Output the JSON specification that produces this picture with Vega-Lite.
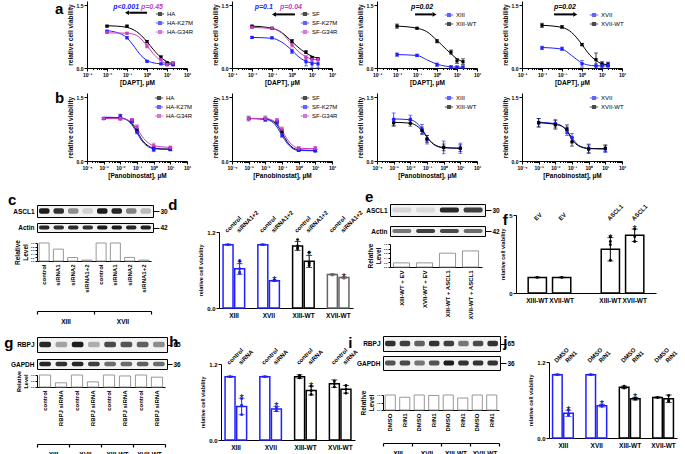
{
"$schema":"https://vega.github.io/schema/vega-lite/v6.json",
"background":"white",
"padding":{"left":3,"top":1,"right":0,"bottom":0},
"spacing":5,
"resolve":{"scale":{"color":"independent","stroke":"independent","opacity":"independent"},"legend":{"color":"independent"}},
"config":{
"font":"Liberation Sans",
"view":{"stroke":null},
"axis":{"grid":false,"minExtent":0,"domainColor":"#000","tickColor":"#000","labelColor":"#000","titleColor":"#000","labelFontWeight":"bold","titleFontWeight":"bold","labelFontSize":6,"titleFontSize":6.5,"tickSize":3,"labelPadding":1,"titlePadding":3,"domainWidth":1,"tickWidth":1},
"axisY":{"minExtent":0},
"axisX":{"minExtent":0},
"legend":{"labelColor":"#000","title":null,"labelFontSize":6,"symbolType":"M-1,0L1,0M-0.35,-0.35L0.35,-0.35L0.35,0.35L-0.35,0.35Z","symbolSize":70,"symbolStrokeWidth":1.2,"rowPadding":0,"labelOffset":2,"padding":0,"orient":"none"},
"point":{"shape":"square","filled":true,"size":10,"opacity":1},
"title":{"fontSize":15,"fontWeight":"bold","frame":"group","color":"#000","orient":"left","angle":0,"baseline":"top","anchor":"end","offset":4}
},
"datasets":{
"a1c":[{"c":0.01,"v":1.01,"s":"HA"},{"c":0.03,"v":1.0,"s":"HA"},{"c":0.1,"v":0.97,"s":"HA"},{"c":0.3,"v":0.87,"s":"HA"},{"c":1,"v":0.63,"s":"HA"},{"c":2,"v":0.45,"s":"HA"},{"c":5,"v":0.25,"s":"HA"},{"c":10,"v":0.15,"s":"HA"},{"c":20,"v":0.1,"s":"HA"},
{"c":0.01,"v":0.89,"s":"HA-K27M"},{"c":0.03,"v":0.85,"s":"HA-K27M"},{"c":0.1,"v":0.72,"s":"HA-K27M"},{"c":0.2,"v":0.55,"s":"HA-K27M"},{"c":0.5,"v":0.3,"s":"HA-K27M"},{"c":1,"v":0.18,"s":"HA-K27M"},{"c":3,"v":0.11,"s":"HA-K27M"},{"c":10,"v":0.09,"s":"HA-K27M"},{"c":20,"v":0.09,"s":"HA-K27M"},
{"c":0.01,"v":0.84,"s":"HA-G34R"},{"c":0.1,"v":0.83,"s":"HA-G34R"},{"c":0.3,"v":0.78,"s":"HA-G34R"},{"c":0.7,"v":0.62,"s":"HA-G34R"},{"c":1,"v":0.53,"s":"HA-G34R"},{"c":2,"v":0.35,"s":"HA-G34R"},{"c":5,"v":0.17,"s":"HA-G34R"},{"c":10,"v":0.11,"s":"HA-G34R"},{"c":20,"v":0.1,"s":"HA-G34R"}],
"a1p":[{"c":0.01,"v":1.0,"lo":0.98,"hi":1.02,"s":"HA"},{"c":0.1,"v":1.0,"lo":0.98,"hi":1.02,"s":"HA"},{"c":1,"v":0.63,"lo":0.6,"hi":0.66,"s":"HA"},{"c":5,"v":0.26,"lo":0.23,"hi":0.29,"s":"HA"},{"c":10,"v":0.12,"lo":0.09,"hi":0.15,"s":"HA"},{"c":20,"v":0.1,"lo":0.06,"hi":0.14,"s":"HA"},
{"c":0.01,"v":0.88,"lo":0.86,"hi":0.9,"s":"HA-K27M"},{"c":0.1,"v":0.72,"lo":0.7,"hi":0.75,"s":"HA-K27M"},{"c":1,"v":0.16,"lo":0.14,"hi":0.18,"s":"HA-K27M"},{"c":5,"v":0.1,"lo":0.08,"hi":0.12,"s":"HA-K27M"},{"c":10,"v":0.08,"lo":0.06,"hi":0.1,"s":"HA-K27M"},{"c":20,"v":0.08,"lo":0.05,"hi":0.11,"s":"HA-K27M"},
{"c":0.01,"v":0.85,"lo":0.83,"hi":0.87,"s":"HA-G34R"},{"c":0.1,"v":0.83,"lo":0.81,"hi":0.85,"s":"HA-G34R"},{"c":1,"v":0.52,"lo":0.48,"hi":0.56,"s":"HA-G34R"},{"c":5,"v":0.2,"lo":0.17,"hi":0.23,"s":"HA-G34R"},{"c":10,"v":0.08,"lo":0.06,"hi":0.1,"s":"HA-G34R"},{"c":20,"v":0.12,"lo":0.08,"hi":0.15,"s":"HA-G34R"}],
"a2c":[{"c":0.01,"v":1.0,"s":"SF"},{"c":0.1,"v":0.95,"s":"SF"},{"c":0.3,"v":0.85,"s":"SF"},{"c":1,"v":0.63,"s":"SF"},{"c":3,"v":0.43,"s":"SF"},{"c":5,"v":0.36,"s":"SF"},{"c":10,"v":0.28,"s":"SF"},{"c":20,"v":0.23,"s":"SF"},
{"c":0.01,"v":0.73,"s":"SF-K27M"},{"c":0.1,"v":0.71,"s":"SF-K27M"},{"c":0.3,"v":0.62,"s":"SF-K27M"},{"c":1,"v":0.42,"s":"SF-K27M"},{"c":2,"v":0.28,"s":"SF-K27M"},{"c":5,"v":0.16,"s":"SF-K27M"},{"c":10,"v":0.12,"s":"SF-K27M"},{"c":20,"v":0.11,"s":"SF-K27M"},
{"c":0.01,"v":0.97,"s":"SF-G34R"},{"c":0.1,"v":0.94,"s":"SF-G34R"},{"c":0.3,"v":0.84,"s":"SF-G34R"},{"c":1,"v":0.56,"s":"SF-G34R"},{"c":2,"v":0.4,"s":"SF-G34R"},{"c":5,"v":0.27,"s":"SF-G34R"},{"c":10,"v":0.21,"s":"SF-G34R"},{"c":20,"v":0.2,"s":"SF-G34R"}],
"a2p":[{"c":0.01,"v":1.0,"lo":0.98,"hi":1.02,"s":"SF"},{"c":0.1,"v":0.95,"lo":0.93,"hi":0.97,"s":"SF"},{"c":1,"v":0.64,"lo":0.6,"hi":0.68,"s":"SF"},{"c":5,"v":0.38,"lo":0.35,"hi":0.41,"s":"SF"},{"c":10,"v":0.25,"lo":0.22,"hi":0.28,"s":"SF"},{"c":20,"v":0.22,"lo":0.2,"hi":0.24,"s":"SF"},
{"c":0.01,"v":0.73,"lo":0.71,"hi":0.75,"s":"SF-K27M"},{"c":0.1,"v":0.72,"lo":0.7,"hi":0.74,"s":"SF-K27M"},{"c":1,"v":0.4,"lo":0.35,"hi":0.45,"s":"SF-K27M"},{"c":5,"v":0.15,"lo":0.05,"hi":0.25,"s":"SF-K27M"},{"c":10,"v":0.1,"lo":0.0,"hi":0.2,"s":"SF-K27M"},{"c":20,"v":0.1,"lo":0.0,"hi":0.2,"s":"SF-K27M"},
{"c":0.01,"v":0.97,"lo":0.95,"hi":0.99,"s":"SF-G34R"},{"c":0.1,"v":0.95,"lo":0.93,"hi":0.97,"s":"SF-G34R"},{"c":1,"v":0.55,"lo":0.5,"hi":0.6,"s":"SF-G34R"},{"c":5,"v":0.25,"lo":0.2,"hi":0.3,"s":"SF-G34R"},{"c":10,"v":0.2,"lo":0.16,"hi":0.24,"s":"SF-G34R"},{"c":20,"v":0.2,"lo":0.17,"hi":0.23,"s":"SF-G34R"}],
"a3c":[{"c":0.01,"v":1.0,"s":"XIII-WT"},{"c":0.1,"v":0.95,"s":"XIII-WT"},{"c":0.3,"v":0.87,"s":"XIII-WT"},{"c":1,"v":0.66,"s":"XIII-WT"},{"c":3,"v":0.44,"s":"XIII-WT"},{"c":5,"v":0.34,"s":"XIII-WT"},{"c":10,"v":0.22,"s":"XIII-WT"},{"c":20,"v":0.15,"s":"XIII-WT"},
{"c":0.01,"v":0.32,"s":"XIII"},{"c":0.1,"v":0.3,"s":"XIII"},{"c":0.3,"v":0.2,"s":"XIII"},{"c":1,"v":0.09,"s":"XIII"},{"c":3,"v":0.04,"s":"XIII"},{"c":10,"v":0.02,"s":"XIII"},{"c":20,"v":0.02,"s":"XIII"}],
"a3p":[{"c":0.01,"v":1.0,"lo":0.95,"hi":1.05,"s":"XIII-WT"},{"c":0.1,"v":0.95,"lo":0.93,"hi":0.97,"s":"XIII-WT"},{"c":1,"v":0.64,"lo":0.6,"hi":0.68,"s":"XIII-WT"},{"c":5,"v":0.38,"lo":0.33,"hi":0.43,"s":"XIII-WT"},{"c":10,"v":0.17,"lo":0.11,"hi":0.23,"s":"XIII-WT"},{"c":20,"v":0.15,"lo":0.08,"hi":0.22,"s":"XIII-WT"},
{"c":0.01,"v":0.32,"lo":0.28,"hi":0.36,"s":"XIII"},{"c":0.1,"v":0.3,"lo":0.27,"hi":0.33,"s":"XIII"},{"c":1,"v":0.08,"lo":0.04,"hi":0.12,"s":"XIII"},{"c":5,"v":0.02,"lo":0.0,"hi":0.06,"s":"XIII"},{"c":10,"v":0.02,"lo":0.0,"hi":0.05,"s":"XIII"},{"c":20,"v":0.02,"lo":0.0,"hi":0.05,"s":"XIII"}],
"a4c":[{"c":0.01,"v":1.02,"s":"XVII-WT"},{"c":0.1,"v":0.97,"s":"XVII-WT"},{"c":0.3,"v":0.85,"s":"XVII-WT"},{"c":1,"v":0.56,"s":"XVII-WT"},{"c":2,"v":0.36,"s":"XVII-WT"},{"c":5,"v":0.18,"s":"XVII-WT"},{"c":10,"v":0.1,"s":"XVII-WT"},{"c":20,"v":0.08,"s":"XVII-WT"},
{"c":0.01,"v":0.49,"s":"XVII"},{"c":0.1,"v":0.45,"s":"XVII"},{"c":0.3,"v":0.3,"s":"XVII"},{"c":1,"v":0.12,"s":"XVII"},{"c":3,"v":0.06,"s":"XVII"},{"c":10,"v":0.05,"s":"XVII"},{"c":20,"v":0.05,"s":"XVII"}],
"a4p":[{"c":0.01,"v":1.02,"lo":0.97,"hi":1.07,"s":"XVII-WT"},{"c":0.1,"v":0.98,"lo":0.95,"hi":1.01,"s":"XVII-WT"},{"c":1,"v":0.56,"lo":0.53,"hi":0.59,"s":"XVII-WT"},{"c":5,"v":0.2,"lo":0.05,"hi":0.36,"s":"XVII-WT"},{"c":10,"v":0.1,"lo":0.05,"hi":0.15,"s":"XVII-WT"},{"c":20,"v":0.08,"lo":0.03,"hi":0.13,"s":"XVII-WT"},
{"c":0.01,"v":0.48,"lo":0.44,"hi":0.52,"s":"XVII"},{"c":0.1,"v":0.46,"lo":0.42,"hi":0.5,"s":"XVII"},{"c":1,"v":0.1,"lo":0.02,"hi":0.18,"s":"XVII"},{"c":5,"v":0.05,"lo":0.0,"hi":0.1,"s":"XVII"},{"c":10,"v":0.05,"lo":0.0,"hi":0.1,"s":"XVII"},{"c":20,"v":0.06,"lo":0.0,"hi":0.14,"s":"XVII"}],
"b1c":[{"c":0.001,"v":1.02,"s":"HA"},{"c":0.01,"v":1.01,"s":"HA"},{"c":0.03,"v":0.95,"s":"HA"},{"c":0.05,"v":0.88,"s":"HA"},{"c":0.1,"v":0.7,"s":"HA"},{"c":0.2,"v":0.5,"s":"HA"},{"c":0.5,"v":0.35,"s":"HA"},{"c":1,"v":0.3,"s":"HA"},{"c":10,"v":0.28,"s":"HA"},
{"c":0.001,"v":1.03,"s":"HA-K27M"},{"c":0.01,"v":1.02,"s":"HA-K27M"},{"c":0.03,"v":0.94,"s":"HA-K27M"},{"c":0.05,"v":0.85,"s":"HA-K27M"},{"c":0.1,"v":0.66,"s":"HA-K27M"},{"c":0.2,"v":0.47,"s":"HA-K27M"},{"c":0.5,"v":0.33,"s":"HA-K27M"},{"c":1,"v":0.29,"s":"HA-K27M"},{"c":10,"v":0.27,"s":"HA-K27M"},
{"c":0.001,"v":1.0,"s":"HA-G34R"},{"c":0.01,"v":1.0,"s":"HA-G34R"},{"c":0.03,"v":0.96,"s":"HA-G34R"},{"c":0.05,"v":0.9,"s":"HA-G34R"},{"c":0.1,"v":0.77,"s":"HA-G34R"},{"c":0.2,"v":0.58,"s":"HA-G34R"},{"c":0.5,"v":0.42,"s":"HA-G34R"},{"c":1,"v":0.36,"s":"HA-G34R"},{"c":10,"v":0.32,"s":"HA-G34R"}],
"b1p":[{"c":0.001,"v":1.0,"lo":0.98,"hi":1.02,"s":"HA"},{"c":0.01,"v":1.03,"lo":0.97,"hi":1.09,"s":"HA"},{"c":0.05,"v":0.95,"lo":0.92,"hi":0.98,"s":"HA"},{"c":0.1,"v":0.72,"lo":0.68,"hi":0.76,"s":"HA"},{"c":1,"v":0.3,"lo":0.26,"hi":0.34,"s":"HA"},{"c":10,"v":0.28,"lo":0.25,"hi":0.31,"s":"HA"},
{"c":0.001,"v":1.0,"lo":0.98,"hi":1.02,"s":"HA-K27M"},{"c":0.01,"v":1.04,"lo":0.98,"hi":1.1,"s":"HA-K27M"},{"c":0.05,"v":0.93,"lo":0.9,"hi":0.96,"s":"HA-K27M"},{"c":0.1,"v":0.68,"lo":0.64,"hi":0.72,"s":"HA-K27M"},{"c":1,"v":0.27,"lo":0.22,"hi":0.32,"s":"HA-K27M"},{"c":10,"v":0.27,"lo":0.24,"hi":0.3,"s":"HA-K27M"},
{"c":0.001,"v":1.0,"lo":0.98,"hi":1.02,"s":"HA-G34R"},{"c":0.01,"v":1.0,"lo":0.95,"hi":1.05,"s":"HA-G34R"},{"c":0.05,"v":0.97,"lo":0.94,"hi":1.0,"s":"HA-G34R"},{"c":0.1,"v":0.8,"lo":0.75,"hi":0.85,"s":"HA-G34R"},{"c":1,"v":0.36,"lo":0.3,"hi":0.42,"s":"HA-G34R"},{"c":10,"v":0.32,"lo":0.29,"hi":0.35,"s":"HA-G34R"}],
"b2c":[{"c":0.001,"v":1.0,"s":"SF"},{"c":0.01,"v":0.99,"s":"SF"},{"c":0.03,"v":0.93,"s":"SF"},{"c":0.05,"v":0.85,"s":"SF"},{"c":0.1,"v":0.66,"s":"SF"},{"c":0.2,"v":0.46,"s":"SF"},{"c":0.5,"v":0.3,"s":"SF"},{"c":1,"v":0.26,"s":"SF"},{"c":10,"v":0.25,"s":"SF"},
{"c":0.001,"v":1.0,"s":"SF-K27M"},{"c":0.01,"v":0.98,"s":"SF-K27M"},{"c":0.03,"v":0.9,"s":"SF-K27M"},{"c":0.05,"v":0.8,"s":"SF-K27M"},{"c":0.1,"v":0.6,"s":"SF-K27M"},{"c":0.2,"v":0.42,"s":"SF-K27M"},{"c":0.5,"v":0.28,"s":"SF-K27M"},{"c":1,"v":0.25,"s":"SF-K27M"},{"c":10,"v":0.24,"s":"SF-K27M"},
{"c":0.001,"v":1.0,"s":"SF-G34R"},{"c":0.01,"v":1.0,"s":"SF-G34R"},{"c":0.03,"v":0.95,"s":"SF-G34R"},{"c":0.05,"v":0.88,"s":"SF-G34R"},{"c":0.1,"v":0.72,"s":"SF-G34R"},{"c":0.2,"v":0.52,"s":"SF-G34R"},{"c":0.5,"v":0.35,"s":"SF-G34R"},{"c":1,"v":0.3,"s":"SF-G34R"},{"c":10,"v":0.29,"s":"SF-G34R"}],
"b2p":[{"c":0.001,"v":1.0,"lo":0.97,"hi":1.03,"s":"SF"},{"c":0.01,"v":1.0,"lo":0.97,"hi":1.03,"s":"SF"},{"c":0.05,"v":0.93,"lo":0.9,"hi":0.96,"s":"SF"},{"c":0.1,"v":0.7,"lo":0.66,"hi":0.74,"s":"SF"},{"c":1,"v":0.27,"lo":0.24,"hi":0.3,"s":"SF"},{"c":10,"v":0.25,"lo":0.22,"hi":0.28,"s":"SF"},
{"c":0.001,"v":1.0,"lo":0.97,"hi":1.03,"s":"SF-K27M"},{"c":0.01,"v":0.97,"lo":0.94,"hi":1.0,"s":"SF-K27M"},{"c":0.05,"v":0.9,"lo":0.87,"hi":0.93,"s":"SF-K27M"},{"c":0.1,"v":0.6,"lo":0.56,"hi":0.64,"s":"SF-K27M"},{"c":1,"v":0.25,"lo":0.22,"hi":0.28,"s":"SF-K27M"},{"c":10,"v":0.24,"lo":0.21,"hi":0.27,"s":"SF-K27M"},
{"c":0.001,"v":1.0,"lo":0.94,"hi":1.06,"s":"SF-G34R"},{"c":0.01,"v":1.0,"lo":0.94,"hi":1.06,"s":"SF-G34R"},{"c":0.05,"v":0.96,"lo":0.92,"hi":1.0,"s":"SF-G34R"},{"c":0.1,"v":0.75,"lo":0.7,"hi":0.8,"s":"SF-G34R"},{"c":1,"v":0.3,"lo":0.26,"hi":0.34,"s":"SF-G34R"},{"c":10,"v":0.3,"lo":0.26,"hi":0.34,"s":"SF-G34R"}],
"b3c":[{"c":0.001,"v":0.99,"s":"XIII"},{"c":0.01,"v":0.97,"s":"XIII"},{"c":0.03,"v":0.86,"s":"XIII"},{"c":0.05,"v":0.76,"s":"XIII"},{"c":0.1,"v":0.56,"s":"XIII"},{"c":0.2,"v":0.42,"s":"XIII"},{"c":0.5,"v":0.33,"s":"XIII"},{"c":1,"v":0.31,"s":"XIII"},{"c":10,"v":0.3,"s":"XIII"},
{"c":0.001,"v":0.91,"s":"XIII-WT"},{"c":0.01,"v":0.89,"s":"XIII-WT"},{"c":0.03,"v":0.8,"s":"XIII-WT"},{"c":0.05,"v":0.72,"s":"XIII-WT"},{"c":0.1,"v":0.56,"s":"XIII-WT"},{"c":0.2,"v":0.43,"s":"XIII-WT"},{"c":0.5,"v":0.34,"s":"XIII-WT"},{"c":1,"v":0.32,"s":"XIII-WT"},{"c":10,"v":0.3,"s":"XIII-WT"}],
"b3p":[{"c":0.001,"v":0.98,"lo":0.83,"hi":1.13,"s":"XIII"},{"c":0.01,"v":0.98,"lo":0.88,"hi":1.08,"s":"XIII"},{"c":0.05,"v":0.74,"lo":0.62,"hi":0.86,"s":"XIII"},{"c":0.1,"v":0.5,"lo":0.4,"hi":0.6,"s":"XIII"},{"c":1,"v":0.32,"lo":0.17,"hi":0.47,"s":"XIII"},{"c":10,"v":0.3,"lo":0.18,"hi":0.42,"s":"XIII"},
{"c":0.001,"v":0.9,"lo":0.82,"hi":0.98,"s":"XIII-WT"},{"c":0.01,"v":0.89,"lo":0.82,"hi":0.96,"s":"XIII-WT"},{"c":0.05,"v":0.72,"lo":0.64,"hi":0.8,"s":"XIII-WT"},{"c":0.1,"v":0.52,"lo":0.44,"hi":0.6,"s":"XIII-WT"},{"c":1,"v":0.32,"lo":0.24,"hi":0.4,"s":"XIII-WT"},{"c":10,"v":0.3,"lo":0.22,"hi":0.38,"s":"XIII-WT"}],
"b4c":[{"c":0.001,"v":0.91,"s":"XVII"},{"c":0.01,"v":0.88,"s":"XVII"},{"c":0.03,"v":0.8,"s":"XVII"},{"c":0.05,"v":0.7,"s":"XVII"},{"c":0.1,"v":0.55,"s":"XVII"},{"c":0.2,"v":0.4,"s":"XVII"},{"c":0.5,"v":0.32,"s":"XVII"},{"c":1,"v":0.3,"s":"XVII"},{"c":10,"v":0.28,"s":"XVII"},
{"c":0.001,"v":0.9,"s":"XVII-WT"},{"c":0.01,"v":0.86,"s":"XVII-WT"},{"c":0.03,"v":0.8,"s":"XVII-WT"},{"c":0.05,"v":0.72,"s":"XVII-WT"},{"c":0.1,"v":0.5,"s":"XVII-WT"},{"c":0.2,"v":0.38,"s":"XVII-WT"},{"c":0.5,"v":0.31,"s":"XVII-WT"},{"c":1,"v":0.29,"s":"XVII-WT"},{"c":10,"v":0.29,"s":"XVII-WT"}],
"b4p":[{"c":0.001,"v":0.9,"lo":0.8,"hi":1.0,"s":"XVII"},{"c":0.01,"v":0.88,"lo":0.78,"hi":0.98,"s":"XVII"},{"c":0.05,"v":0.7,"lo":0.6,"hi":0.8,"s":"XVII"},{"c":0.1,"v":0.55,"lo":0.45,"hi":0.65,"s":"XVII"},{"c":1,"v":0.3,"lo":0.2,"hi":0.4,"s":"XVII"},{"c":10,"v":0.28,"lo":0.2,"hi":0.36,"s":"XVII"},
{"c":0.001,"v":0.9,"lo":0.8,"hi":1.0,"s":"XVII-WT"},{"c":0.01,"v":0.85,"lo":0.75,"hi":0.95,"s":"XVII-WT"},{"c":0.05,"v":0.75,"lo":0.65,"hi":0.85,"s":"XVII-WT"},{"c":0.1,"v":0.45,"lo":0.35,"hi":0.55,"s":"XVII-WT"},{"c":1,"v":0.28,"lo":0.18,"hi":0.38,"s":"XVII-WT"},{"c":10,"v":0.3,"lo":0.22,"hi":0.38,"s":"XVII-WT"}],
"cblot":[{"row":"ASCL1","lane":"XIII|control","i":0.95},{"row":"ASCL1","lane":"XIII|siRNA1","i":0.85},{"row":"ASCL1","lane":"XIII|siRNA2","i":0.45},{"row":"ASCL1","lane":"XIII|siRNA1+2","i":0.15},{"row":"ASCL1","lane":"XVII|control","i":0.95},{"row":"ASCL1","lane":"XVII|siRNA1","i":0.9},{"row":"ASCL1","lane":"XVII|siRNA2","i":0.5},{"row":"ASCL1","lane":"XVII|siRNA1+2","i":0.25},
{"row":"Actin","lane":"XIII|control","i":0.9},{"row":"Actin","lane":"XIII|siRNA1","i":0.85},{"row":"Actin","lane":"XIII|siRNA2","i":0.88},{"row":"Actin","lane":"XIII|siRNA1+2","i":0.85},{"row":"Actin","lane":"XVII|control","i":0.95},{"row":"Actin","lane":"XVII|siRNA1","i":0.95},{"row":"Actin","lane":"XVII|siRNA2","i":0.9},{"row":"Actin","lane":"XVII|siRNA1+2","i":0.92}],
"crel":[{"lane":"XIII|control","g":"XIII","v":1.0},{"lane":"XIII|siRNA1","g":"XIII","v":0.66},{"lane":"XIII|siRNA2","g":"XIII","v":0.19},{"lane":"XIII|siRNA1+2","g":"XIII","v":0.05},{"lane":"XVII|control","g":"XVII","v":1.0},{"lane":"XVII|siRNA1","g":"XVII","v":1.0},{"lane":"XVII|siRNA2","g":"XVII","v":0.2},{"lane":"XVII|siRNA1+2","g":"XVII","v":0.05}],
"eblot":[{"row":"ASCL1","lane":"XIII-WT + EV","i":0.12},{"row":"ASCL1","lane":"XVII-WT + EV","i":0.1},{"row":"ASCL1","lane":"XIII-WT + ASCL1","i":0.9},{"row":"ASCL1","lane":"XVII-WT + ASCL1","i":0.8},
{"row":"Actin","lane":"XIII-WT + EV","i":0.55},{"row":"Actin","lane":"XVII-WT + EV","i":0.8},{"row":"Actin","lane":"XIII-WT + ASCL1","i":0.75},{"row":"Actin","lane":"XVII-WT + ASCL1","i":0.6}],
"erel":[{"lane":"XIII-WT + EV","v":0.18},{"lane":"XVII-WT + EV","v":0.18},{"lane":"XIII-WT + ASCL1","v":0.6},{"lane":"XVII-WT + ASCL1","v":0.7}],
"gblot":[{"row":"RBPJ","lane":"XIII|control","i":0.9},{"row":"RBPJ","lane":"XIII|RBPJ siRNA","i":0.35},{"row":"RBPJ","lane":"XVII|control","i":0.95},{"row":"RBPJ","lane":"XVII|RBPJ siRNA","i":0.3},{"row":"RBPJ","lane":"XIII-WT|control","i":0.75},{"row":"RBPJ","lane":"XIII-WT|RBPJ siRNA","i":0.7},{"row":"RBPJ","lane":"XVII-WT|control","i":0.65},{"row":"RBPJ","lane":"XVII-WT|RBPJ siRNA","i":0.45},
{"row":"GAPDH","lane":"XIII|control","i":0.9},{"row":"GAPDH","lane":"XIII|RBPJ siRNA","i":0.85},{"row":"GAPDH","lane":"XVII|control","i":0.9},{"row":"GAPDH","lane":"XVII|RBPJ siRNA","i":0.8},{"row":"GAPDH","lane":"XIII-WT|control","i":0.6},{"row":"GAPDH","lane":"XIII-WT|RBPJ siRNA","i":0.6},{"row":"GAPDH","lane":"XVII-WT|control","i":0.65},{"row":"GAPDH","lane":"XVII-WT|RBPJ siRNA","i":0.6}],
"grel":[{"lane":"XIII|control","g":"XIII","v":1.0},{"lane":"XIII|RBPJ siRNA","g":"XIII","v":0.35},{"lane":"XVII|control","g":"XVII","v":1.0},{"lane":"XVII|RBPJ siRNA","g":"XVII","v":0.43},{"lane":"XIII-WT|control","g":"XIII-WT","v":1.0},{"lane":"XIII-WT|RBPJ siRNA","g":"XIII-WT","v":0.92},{"lane":"XVII-WT|control","g":"XVII-WT","v":1.0},{"lane":"XVII-WT|RBPJ siRNA","g":"XVII-WT","v":0.82}],
"iblot":[{"row":"RBPJ","lane":"XIII|DMSO","i":0.85},{"row":"RBPJ","lane":"XIII|RIN1","i":0.8},{"row":"RBPJ","lane":"XVII|DMSO","i":0.65},{"row":"RBPJ","lane":"XVII|RIN1","i":0.85},{"row":"RBPJ","lane":"XIII-WT|DMSO","i":0.8},{"row":"RBPJ","lane":"XIII-WT|RIN1","i":0.55},{"row":"RBPJ","lane":"XVII-WT|DMSO","i":0.75},{"row":"RBPJ","lane":"XVII-WT|RIN1","i":0.85},
{"row":"GAPDH","lane":"XIII|DMSO","i":0.7},{"row":"GAPDH","lane":"XIII|RIN1","i":0.75},{"row":"GAPDH","lane":"XVII|DMSO","i":0.55},{"row":"GAPDH","lane":"XVII|RIN1","i":0.7},{"row":"GAPDH","lane":"XIII-WT|DMSO","i":0.95},{"row":"GAPDH","lane":"XIII-WT|RIN1","i":0.85},{"row":"GAPDH","lane":"XVII-WT|DMSO","i":0.85},{"row":"GAPDH","lane":"XVII-WT|RIN1","i":0.85}],
"irel":[{"lane":"XIII|DMSO","g":"XIII","v":1.0},{"lane":"XIII|RIN1","g":"XIII","v":0.85},{"lane":"XVII|DMSO","g":"XVII","v":1.0},{"lane":"XVII|RIN1","g":"XVII","v":0.97},{"lane":"XIII-WT|DMSO","g":"XIII-WT","v":1.0},{"lane":"XIII-WT|RIN1","g":"XIII-WT","v":0.8},{"lane":"XVII-WT|DMSO","g":"XVII-WT","v":1.0},{"lane":"XVII-WT|RIN1","g":"XVII-WT","v":1.0}],
"dbar":[{"k":"XIII|control","line":"XIII","cond":"control","m":1.0,"lo":0.99,"hi":1.01,"sig":""},{"k":"XIII|siRNA1+2","line":"XIII","cond":"siRNA1+2","m":0.62,"lo":0.53,"hi":0.7,"sig":"*"},{"k":"XVII|control","line":"XVII","cond":"control","m":1.0,"lo":0.99,"hi":1.01,"sig":""},{"k":"XVII|siRNA1+2","line":"XVII","cond":"siRNA1+2","m":0.43,"lo":0.42,"hi":0.44,"sig":"*"},{"k":"XIII-WT|control","line":"XIII-WT","cond":"control","m":0.98,"lo":0.91,"hi":1.05,"sig":""},{"k":"XIII-WT|siRNA1+2","line":"XIII-WT","cond":"siRNA1+2","m":0.74,"lo":0.64,"hi":0.83,"sig":"*"},{"k":"XVII-WT|control","line":"XVII-WT","cond":"control","m":0.53,"lo":0.52,"hi":0.54,"sig":""},{"k":"XVII-WT|siRNA1+2","line":"XVII-WT","cond":"siRNA1+2","m":0.48,"lo":0.47,"hi":0.49,"sig":"*"}],
"dpts":[{"k":"XIII|control","line":"XIII","v":1.0},{"k":"XIII|siRNA1+2","line":"XIII","v":0.75},{"k":"XIII|siRNA1+2","line":"XIII","v":0.62},{"k":"XIII|siRNA1+2","line":"XIII","v":0.57},{"k":"XIII|siRNA1+2","line":"XIII","v":0.55},{"k":"XVII|control","line":"XVII","v":1.0},{"k":"XVII|siRNA1+2","line":"XVII","v":0.43},{"k":"XVII|siRNA1+2","line":"XVII","v":0.44},{"k":"XIII-WT|control","line":"XIII-WT","v":1.08},{"k":"XIII-WT|control","line":"XIII-WT","v":0.98},{"k":"XIII-WT|control","line":"XIII-WT","v":0.95},{"k":"XIII-WT|control","line":"XIII-WT","v":0.93},{"k":"XIII-WT|siRNA1+2","line":"XIII-WT","v":0.88},{"k":"XIII-WT|siRNA1+2","line":"XIII-WT","v":0.72},{"k":"XIII-WT|siRNA1+2","line":"XIII-WT","v":0.67},{"k":"XIII-WT|siRNA1+2","line":"XIII-WT","v":0.7},{"k":"XVII-WT|control","line":"XVII-WT","v":0.53},{"k":"XVII-WT|control","line":"XVII-WT","v":0.52},{"k":"XVII-WT|siRNA1+2","line":"XVII-WT","v":0.48},{"k":"XVII-WT|siRNA1+2","line":"XVII-WT","v":0.47}],
"fbar":[{"k":"XIII-WT|EV","line":"XIII-WT","cond":"EV","m":1.0,"lo":0.98,"hi":1.02,"sig":""},{"k":"XVII-WT|EV","line":"XVII-WT","cond":"EV","m":1.0,"lo":0.98,"hi":1.02,"sig":""},{"k":"XIII-WT|ASCL1","line":"XIII-WT","cond":"ASCL1","m":2.8,"lo":2.05,"hi":3.55,"sig":"*"},{"k":"XVII-WT|ASCL1","line":"XVII-WT","cond":"ASCL1","m":3.7,"lo":3.3,"hi":4.1,"sig":"*"}],
"fpts":[{"k":"XIII-WT|EV","v":1.0},{"k":"XVII-WT|EV","v":1.0},{"k":"XIII-WT|ASCL1","v":3.6},{"k":"XIII-WT|ASCL1","v":3.3},{"k":"XIII-WT|ASCL1","v":3.1},{"k":"XIII-WT|ASCL1","v":2.1},{"k":"XVII-WT|ASCL1","v":4.1},{"k":"XVII-WT|ASCL1","v":3.6},{"k":"XVII-WT|ASCL1","v":3.3}],
"hbar":[{"k":"XIII|control","line":"XIII","cond":"control","m":1.0,"lo":0.99,"hi":1.01,"sig":""},{"k":"XIII|siRNA","line":"XIII","cond":"siRNA","m":0.53,"lo":0.4,"hi":0.66,"sig":"*"},{"k":"XVII|control","line":"XVII","cond":"control","m":1.0,"lo":0.99,"hi":1.01,"sig":""},{"k":"XVII|siRNA","line":"XVII","cond":"siRNA","m":0.49,"lo":0.45,"hi":0.53,"sig":"*"},{"k":"XIII-WT|control","line":"XIII-WT","cond":"control","m":1.0,"lo":0.97,"hi":1.03,"sig":""},{"k":"XIII-WT|siRNA","line":"XIII-WT","cond":"siRNA","m":0.78,"lo":0.71,"hi":0.85,"sig":"*"},{"k":"XVII-WT|control","line":"XVII-WT","cond":"control","m":0.89,"lo":0.83,"hi":0.95,"sig":""},{"k":"XVII-WT|siRNA","line":"XVII-WT","cond":"siRNA","m":0.8,"lo":0.74,"hi":0.86,"sig":""}],
"hpts":[{"k":"XIII|control","line":"XIII","v":1.0},{"k":"XIII|siRNA","line":"XIII","v":0.65},{"k":"XIII|siRNA","line":"XIII","v":0.55},{"k":"XIII|siRNA","line":"XIII","v":0.4},{"k":"XVII|control","line":"XVII","v":1.0},{"k":"XVII|siRNA","line":"XVII","v":0.52},{"k":"XVII|siRNA","line":"XVII","v":0.5},{"k":"XVII|siRNA","line":"XVII","v":0.46},{"k":"XIII-WT|control","line":"XIII-WT","v":1.02},{"k":"XIII-WT|control","line":"XIII-WT","v":1.0},{"k":"XIII-WT|control","line":"XIII-WT","v":0.98},{"k":"XIII-WT|siRNA","line":"XIII-WT","v":0.85},{"k":"XIII-WT|siRNA","line":"XIII-WT","v":0.78},{"k":"XIII-WT|siRNA","line":"XIII-WT","v":0.72},{"k":"XVII-WT|control","line":"XVII-WT","v":0.93},{"k":"XVII-WT|control","line":"XVII-WT","v":0.89},{"k":"XVII-WT|control","line":"XVII-WT","v":0.84},{"k":"XVII-WT|siRNA","line":"XVII-WT","v":0.86},{"k":"XVII-WT|siRNA","line":"XVII-WT","v":0.8},{"k":"XVII-WT|siRNA","line":"XVII-WT","v":0.74}],
"jbar":[{"k":"XIII|DMSO","line":"XIII","cond":"DMSO","m":1.0,"lo":0.99,"hi":1.01,"sig":""},{"k":"XIII|RIN1","line":"XIII","cond":"RIN1","m":0.39,"lo":0.34,"hi":0.44,"sig":"*"},{"k":"XVII|DMSO","line":"XVII","cond":"DMSO","m":1.0,"lo":0.99,"hi":1.01,"sig":""},{"k":"XVII|RIN1","line":"XVII","cond":"RIN1","m":0.51,"lo":0.49,"hi":0.53,"sig":"*"},{"k":"XIII-WT|DMSO","line":"XIII-WT","cond":"DMSO","m":0.8,"lo":0.78,"hi":0.82,"sig":""},{"k":"XIII-WT|RIN1","line":"XIII-WT","cond":"RIN1","m":0.62,"lo":0.6,"hi":0.64,"sig":"*"},{"k":"XVII-WT|DMSO","line":"XVII-WT","cond":"DMSO","m":0.64,"lo":0.63,"hi":0.65,"sig":""},{"k":"XVII-WT|RIN1","line":"XVII-WT","cond":"RIN1","m":0.62,"lo":0.56,"hi":0.68,"sig":""}],
"jpts":[{"k":"XIII|DMSO","line":"XIII","v":1.0},{"k":"XIII|RIN1","line":"XIII","v":0.44},{"k":"XIII|RIN1","line":"XIII","v":0.38},{"k":"XIII|RIN1","line":"XIII","v":0.36},{"k":"XVII|DMSO","line":"XVII","v":1.0},{"k":"XVII|RIN1","line":"XVII","v":0.52},{"k":"XVII|RIN1","line":"XVII","v":0.5},{"k":"XIII-WT|DMSO","line":"XIII-WT","v":0.82},{"k":"XIII-WT|DMSO","line":"XIII-WT","v":0.8},{"k":"XIII-WT|DMSO","line":"XIII-WT","v":0.79},{"k":"XIII-WT|RIN1","line":"XIII-WT","v":0.63},{"k":"XIII-WT|RIN1","line":"XIII-WT","v":0.61},{"k":"XVII-WT|DMSO","line":"XVII-WT","v":0.64},{"k":"XVII-WT|RIN1","line":"XVII-WT","v":0.67},{"k":"XVII-WT|RIN1","line":"XVII-WT","v":0.6},{"k":"XVII-WT|RIN1","line":"XVII-WT","v":0.58}]
},
"vconcat":[
{"hconcat":[
{"width":5,"height":67,"data":{"values":[{}]},"mark":{"type":"point","opacity":0}},
{"width":100,"height":67,
"layer":[
{"data":{"name":"a1c"},"mark":{"type":"line","interpolate":"monotone","strokeWidth":1},
"encoding":{
"x":{"field":"c","type":"quantitative","title":"[DAPT], µM","scale":{"type":"log","domain":[0.001,100]},"axis":{"values":[0.001,0.002,0.003,0.004,0.005,0.006,0.007,0.008,0.009,0.01,0.02,0.03,0.04,0.05,0.06,0.07,0.08,0.09,0.1,0.2,0.3,0.4,0.5,0.6,0.7,0.8,0.9,1,2,3,4,5,6,7,8,9,10,20,30,40,50,60,70,80,90,100],"labelExpr":"abs(log(datum.value)/LN10-round(log(datum.value)/LN10))<0.01 ? '10'+['⁻⁴','⁻³','⁻²','⁻¹','⁰','¹','²'][round(log(datum.value)/LN10)+4] : ''","tickSize":{"condition":{"test":"abs(log(datum.value)/LN10-round(log(datum.value)/LN10))>0.01","value":1.5},"value":3},"labelFontSize":5,"labelOverlap":false,"labelFlush":false,"titlePadding":2}},
"y":{"field":"v","type":"quantitative","title":"relative cell viability","scale":{"domain":[0,1.5]},"axis":{"values":[0,0.5,1,1.5],"format":".1f","labelFontSize":5}},
"color":{"field":"s","type":"nominal","sort":null,"scale":{"domain":["HA","HA-K27M","HA-G34R"],"range":["#000000","#2020ff","#c83cc8"]},"legend":{"legendX":68,"legendY":8}}}},
{"data":{"name":"a1p"},"mark":{"type":"errorbar","ticks":{"size":4},"thickness":0.8},"encoding":{"x":{"field":"c","type":"quantitative","title":"[DAPT], µM"},"y":{"field":"lo","type":"quantitative","title":"relative cell viability"},"y2":{"field":"hi"},"color":{"field":"s","type":"nominal","sort":null}}},
{"data":{"name":"a1p"},"mark":{"type":"point"},"encoding":{"x":{"field":"c","type":"quantitative","title":"[DAPT], µM"},"y":{"field":"v","type":"quantitative","title":"relative cell viability"},"color":{"field":"s","type":"nominal","sort":null}}},
{"data":{"values":[{}]},"mark":{"type":"text","text":"p<0.001","align":"right","baseline":"middle","fontSize":7,"fontWeight":"bold","fontStyle":"italic","color":"#2020ff"},"encoding":{"x":{"datum":0.4},"y":{"datum":1.455}}},
{"data":{"values":[{}]},"mark":{"type":"text","text":"p=0.45","align":"left","baseline":"middle","fontSize":7,"fontWeight":"bold","fontStyle":"italic","color":"#c83cc8"},"encoding":{"x":{"datum":0.5},"y":{"datum":1.455}}},
{"data":{"values":[{}]},"mark":{"type":"rule","strokeWidth":2,"color":"#000"},"encoding":{"x":{"datum":0.13},"x2":{"datum":1},"y":{"datum":1.32}}},
{"data":{"values":[{}]},"mark":{"type":"point","shape":"triangle-left","size":22,"color":"#000"},"encoding":{"x":{"datum":0.1},"y":{"datum":1.32}}},
{"data":{"values":[{}]},"mark":{"type":"text","text":"a","align":"left","baseline":"top","fontSize":15,"fontWeight":"bold","color":"#000","dy":-3},"encoding":{"x":{"datum":0.00002512},"y":{"datum":1.5}}}
]},
{"width":100,"height":67,
"layer":[
{"data":{"name":"a2c"},"mark":{"type":"line","interpolate":"monotone","strokeWidth":1},
"encoding":{
"x":{"field":"c","type":"quantitative","title":"[DAPT], µM","scale":{"type":"log","domain":[0.001,100]},"axis":{"values":[0.001,0.002,0.003,0.004,0.005,0.006,0.007,0.008,0.009,0.01,0.02,0.03,0.04,0.05,0.06,0.07,0.08,0.09,0.1,0.2,0.3,0.4,0.5,0.6,0.7,0.8,0.9,1,2,3,4,5,6,7,8,9,10,20,30,40,50,60,70,80,90,100],"labelExpr":"abs(log(datum.value)/LN10-round(log(datum.value)/LN10))<0.01 ? '10'+['⁻⁴','⁻³','⁻²','⁻¹','⁰','¹','²'][round(log(datum.value)/LN10)+4] : ''","tickSize":{"condition":{"test":"abs(log(datum.value)/LN10-round(log(datum.value)/LN10))>0.01","value":1.5},"value":3},"labelFontSize":5,"labelOverlap":false,"labelFlush":false,"titlePadding":2}},
"y":{"field":"v","type":"quantitative","title":"relative cell viability","scale":{"domain":[0,1.5]},"axis":{"values":[0,0.5,1,1.5],"format":".1f","labelFontSize":5}},
"color":{"field":"s","type":"nominal","sort":null,"scale":{"domain":["SF","SF-K27M","SF-G34R"],"range":["#000000","#2020ff","#c83cc8"]},"legend":{"legendX":68,"legendY":8}}}},
{"data":{"name":"a2p"},"mark":{"type":"errorbar","ticks":{"size":4},"thickness":0.8},"encoding":{"x":{"field":"c","type":"quantitative","title":"[DAPT], µM"},"y":{"field":"lo","type":"quantitative","title":"relative cell viability"},"y2":{"field":"hi"},"color":{"field":"s","type":"nominal","sort":null}}},
{"data":{"name":"a2p"},"mark":{"type":"point"},"encoding":{"x":{"field":"c","type":"quantitative","title":"[DAPT], µM"},"y":{"field":"v","type":"quantitative","title":"relative cell viability"},"color":{"field":"s","type":"nominal","sort":null}}},
{"data":{"values":[{}]},"mark":{"type":"text","text":"p=0.1","align":"right","baseline":"middle","fontSize":7,"fontWeight":"bold","fontStyle":"italic","color":"#2020ff"},"encoding":{"x":{"datum":0.11},"y":{"datum":1.455}}},
{"data":{"values":[{}]},"mark":{"type":"text","text":"p=0.04","align":"left","baseline":"middle","fontSize":7,"fontWeight":"bold","fontStyle":"italic","color":"#c83cc8"},"encoding":{"x":{"datum":0.25},"y":{"datum":1.455}}},
{"data":{"values":[{}]},"mark":{"type":"rule","strokeWidth":2,"color":"#000"},"encoding":{"x":{"datum":0.16},"x2":{"datum":1.4},"y":{"datum":1.28}}},
{"data":{"values":[{}]},"mark":{"type":"point","shape":"triangle-left","size":22,"color":"#000"},"encoding":{"x":{"datum":0.126},"y":{"datum":1.28}}}
]},
{"width":100,"height":67,
"layer":[
{"data":{"name":"a3c"},"mark":{"type":"line","interpolate":"monotone","strokeWidth":1},
"encoding":{
"x":{"field":"c","type":"quantitative","title":"[DAPT], µM","scale":{"type":"log","domain":[0.001,100]},"axis":{"values":[0.001,0.002,0.003,0.004,0.005,0.006,0.007,0.008,0.009,0.01,0.02,0.03,0.04,0.05,0.06,0.07,0.08,0.09,0.1,0.2,0.3,0.4,0.5,0.6,0.7,0.8,0.9,1,2,3,4,5,6,7,8,9,10,20,30,40,50,60,70,80,90,100],"labelExpr":"abs(log(datum.value)/LN10-round(log(datum.value)/LN10))<0.01 ? '10'+['⁻⁴','⁻³','⁻²','⁻¹','⁰','¹','²'][round(log(datum.value)/LN10)+4] : ''","tickSize":{"condition":{"test":"abs(log(datum.value)/LN10-round(log(datum.value)/LN10))>0.01","value":1.5},"value":3},"labelFontSize":5,"labelOverlap":false,"labelFlush":false,"titlePadding":2}},
"y":{"field":"v","type":"quantitative","title":"relative cell viability","scale":{"domain":[0,1.5]},"axis":{"values":[0,0.5,1,1.5],"format":".1f","labelFontSize":5}},
"color":{"field":"s","type":"nominal","sort":null,"scale":{"domain":["XIII","XIII-WT"],"range":["#2020ff","#000000"]},"legend":{"legendX":67,"legendY":9}}}},
{"data":{"name":"a3p"},"mark":{"type":"errorbar","ticks":{"size":4},"thickness":0.8},"encoding":{"x":{"field":"c","type":"quantitative","title":"[DAPT], µM"},"y":{"field":"lo","type":"quantitative","title":"relative cell viability"},"y2":{"field":"hi"},"color":{"field":"s","type":"nominal","sort":null}}},
{"data":{"name":"a3p"},"mark":{"type":"point"},"encoding":{"x":{"field":"c","type":"quantitative","title":"[DAPT], µM"},"y":{"field":"v","type":"quantitative","title":"relative cell viability"},"color":{"field":"s","type":"nominal","sort":null}}},
{"data":{"values":[{}]},"mark":{"type":"text","text":"p=0.02","align":"center","baseline":"middle","fontSize":7,"fontWeight":"bold","fontStyle":"italic","color":"#000"},"encoding":{"x":{"datum":0.18},"y":{"datum":1.455}}},
{"data":{"values":[{}]},"mark":{"type":"rule","strokeWidth":2,"color":"#000"},"encoding":{"x":{"datum":0.08},"x2":{"datum":0.6},"y":{"datum":1.28}}},
{"data":{"values":[{}]},"mark":{"type":"point","shape":"triangle-right","size":22,"color":"#000"},"encoding":{"x":{"datum":0.75},"y":{"datum":1.28}}}
]},
{"width":100,"height":67,
"layer":[
{"data":{"name":"a4c"},"mark":{"type":"line","interpolate":"monotone","strokeWidth":1},
"encoding":{
"x":{"field":"c","type":"quantitative","title":"[DAPT], µM","scale":{"type":"log","domain":[0.001,100]},"axis":{"values":[0.001,0.002,0.003,0.004,0.005,0.006,0.007,0.008,0.009,0.01,0.02,0.03,0.04,0.05,0.06,0.07,0.08,0.09,0.1,0.2,0.3,0.4,0.5,0.6,0.7,0.8,0.9,1,2,3,4,5,6,7,8,9,10,20,30,40,50,60,70,80,90,100],"labelExpr":"abs(log(datum.value)/LN10-round(log(datum.value)/LN10))<0.01 ? '10'+['⁻⁴','⁻³','⁻²','⁻¹','⁰','¹','²'][round(log(datum.value)/LN10)+4] : ''","tickSize":{"condition":{"test":"abs(log(datum.value)/LN10-round(log(datum.value)/LN10))>0.01","value":1.5},"value":3},"labelFontSize":5,"labelOverlap":false,"labelFlush":false,"titlePadding":2}},
"y":{"field":"v","type":"quantitative","title":"relative cell viability","scale":{"domain":[0,1.5]},"axis":{"values":[0,0.5,1,1.5],"format":".1f","labelFontSize":5}},
"color":{"field":"s","type":"nominal","sort":null,"scale":{"domain":["XVII","XVII-WT"],"range":["#2020ff","#000000"]},"legend":{"legendX":67,"legendY":9}}}},
{"data":{"name":"a4p"},"mark":{"type":"errorbar","ticks":{"size":4},"thickness":0.8},"encoding":{"x":{"field":"c","type":"quantitative","title":"[DAPT], µM"},"y":{"field":"lo","type":"quantitative","title":"relative cell viability"},"y2":{"field":"hi"},"color":{"field":"s","type":"nominal","sort":null}}},
{"data":{"name":"a4p"},"mark":{"type":"point"},"encoding":{"x":{"field":"c","type":"quantitative","title":"[DAPT], µM"},"y":{"field":"v","type":"quantitative","title":"relative cell viability"},"color":{"field":"s","type":"nominal","sort":null}}},
{"data":{"values":[{}]},"mark":{"type":"text","text":"p=0.02","align":"center","baseline":"middle","fontSize":7,"fontWeight":"bold","fontStyle":"italic","color":"#000"},"encoding":{"x":{"datum":0.14},"y":{"datum":1.455}}},
{"data":{"values":[{}]},"mark":{"type":"rule","strokeWidth":2,"color":"#000"},"encoding":{"x":{"datum":0.04},"x2":{"datum":0.38},"y":{"datum":1.28}}},
{"data":{"values":[{}]},"mark":{"type":"point","shape":"triangle-right","size":22,"color":"#000"},"encoding":{"x":{"datum":0.46},"y":{"datum":1.28}}}
]}
],"spacing":45,"bounds":"flush","resolve":{"scale":{"color":"independent"},"legend":{"color":"independent"}}},
{"hconcat":[
{"width":5,"height":68,"data":{"values":[{}]},"mark":{"type":"point","opacity":0}},
{"width":100,"height":68,
"layer":[
{"data":{"name":"b1c"},"mark":{"type":"line","interpolate":"monotone","strokeWidth":1},
"encoding":{
"x":{"field":"c","type":"quantitative","title":"[Panobinostat], µM","scale":{"type":"log","domain":[0.0001,100]},"axis":{"values":[0.0001,0.0002,0.0003,0.0004,0.0005,0.0006,0.0007,0.0008,0.0009,0.001,0.002,0.003,0.004,0.005,0.006,0.007,0.008,0.009,0.01,0.02,0.03,0.04,0.05,0.06,0.07,0.08,0.09,0.1,0.2,0.3,0.4,0.5,0.6,0.7,0.8,0.9,1,2,3,4,5,6,7,8,9,10,20,30,40,50,60,70,80,90,100],"labelExpr":"abs(log(datum.value)/LN10-round(log(datum.value)/LN10))<0.01 ? '10'+['⁻⁴','⁻³','⁻²','⁻¹','⁰','¹','²'][round(log(datum.value)/LN10)+4] : ''","tickSize":{"condition":{"test":"abs(log(datum.value)/LN10-round(log(datum.value)/LN10))>0.01","value":1.5},"value":3},"labelFontSize":5,"labelOverlap":false,"labelFlush":false,"titlePadding":2}},
"y":{"field":"v","type":"quantitative","title":"relative cell viability","scale":{"domain":[0,1.5]},"axis":{"values":[0,0.5,1,1.5],"format":".1f","labelFontSize":5}},
"color":{"field":"s","type":"nominal","sort":null,"scale":{"domain":["HA","HA-K27M","HA-G34R"],"range":["#000000","#2020ff","#c83cc8"]},"legend":{"legendX":67,"legendY":0}}}},
{"data":{"name":"b1p"},"mark":{"type":"errorbar","ticks":{"size":4},"thickness":0.8},"encoding":{"x":{"field":"c","type":"quantitative","title":"[Panobinostat], µM"},"y":{"field":"lo","type":"quantitative","title":"relative cell viability"},"y2":{"field":"hi"},"color":{"field":"s","type":"nominal","sort":null}}},
{"data":{"name":"b1p"},"mark":{"type":"point"},"encoding":{"x":{"field":"c","type":"quantitative","title":"[Panobinostat], µM"},"y":{"field":"v","type":"quantitative","title":"relative cell viability"},"color":{"field":"s","type":"nominal","sort":null}}},
{"data":{"values":[{}]},"mark":{"type":"text","text":"b","align":"left","baseline":"top","fontSize":15,"fontWeight":"bold","color":"#000","dy":-6},"encoding":{"x":{"datum":0.0000012},"y":{"datum":1.5}}}
]},
{"width":100,"height":68,
"layer":[
{"data":{"name":"b2c"},"mark":{"type":"line","interpolate":"monotone","strokeWidth":1},
"encoding":{
"x":{"field":"c","type":"quantitative","title":"[Panobinostat], µM","scale":{"type":"log","domain":[0.0001,100]},"axis":{"values":[0.0001,0.0002,0.0003,0.0004,0.0005,0.0006,0.0007,0.0008,0.0009,0.001,0.002,0.003,0.004,0.005,0.006,0.007,0.008,0.009,0.01,0.02,0.03,0.04,0.05,0.06,0.07,0.08,0.09,0.1,0.2,0.3,0.4,0.5,0.6,0.7,0.8,0.9,1,2,3,4,5,6,7,8,9,10,20,30,40,50,60,70,80,90,100],"labelExpr":"abs(log(datum.value)/LN10-round(log(datum.value)/LN10))<0.01 ? '10'+['⁻⁴','⁻³','⁻²','⁻¹','⁰','¹','²'][round(log(datum.value)/LN10)+4] : ''","tickSize":{"condition":{"test":"abs(log(datum.value)/LN10-round(log(datum.value)/LN10))>0.01","value":1.5},"value":3},"labelFontSize":5,"labelOverlap":false,"labelFlush":false,"titlePadding":2}},
"y":{"field":"v","type":"quantitative","title":"relative cell viability","scale":{"domain":[0,1.5]},"axis":{"values":[0,0.5,1,1.5],"format":".1f","labelFontSize":5}},
"color":{"field":"s","type":"nominal","sort":null,"scale":{"domain":["SF","SF-K27M","SF-G34R"],"range":["#000000","#2020ff","#c83cc8"]},"legend":{"legendX":68,"legendY":0}}}},
{"data":{"name":"b2p"},"mark":{"type":"errorbar","ticks":{"size":4},"thickness":0.8},"encoding":{"x":{"field":"c","type":"quantitative","title":"[Panobinostat], µM"},"y":{"field":"lo","type":"quantitative","title":"relative cell viability"},"y2":{"field":"hi"},"color":{"field":"s","type":"nominal","sort":null}}},
{"data":{"name":"b2p"},"mark":{"type":"point"},"encoding":{"x":{"field":"c","type":"quantitative","title":"[Panobinostat], µM"},"y":{"field":"v","type":"quantitative","title":"relative cell viability"},"color":{"field":"s","type":"nominal","sort":null}}}
]},
{"width":100,"height":68,
"layer":[
{"data":{"name":"b3c"},"mark":{"type":"line","interpolate":"monotone","strokeWidth":1},
"encoding":{
"x":{"field":"c","type":"quantitative","title":"[Panobinostat], µM","scale":{"type":"log","domain":[0.0001,100]},"axis":{"values":[0.0001,0.0002,0.0003,0.0004,0.0005,0.0006,0.0007,0.0008,0.0009,0.001,0.002,0.003,0.004,0.005,0.006,0.007,0.008,0.009,0.01,0.02,0.03,0.04,0.05,0.06,0.07,0.08,0.09,0.1,0.2,0.3,0.4,0.5,0.6,0.7,0.8,0.9,1,2,3,4,5,6,7,8,9,10,20,30,40,50,60,70,80,90,100],"labelExpr":"abs(log(datum.value)/LN10-round(log(datum.value)/LN10))<0.01 ? '10'+['⁻⁴','⁻³','⁻²','⁻¹','⁰','¹','²'][round(log(datum.value)/LN10)+4] : ''","tickSize":{"condition":{"test":"abs(log(datum.value)/LN10-round(log(datum.value)/LN10))>0.01","value":1.5},"value":3},"labelFontSize":5,"labelOverlap":false,"labelFlush":false,"titlePadding":2}},
"y":{"field":"v","type":"quantitative","title":"relative cell viability","scale":{"domain":[0,1.5]},"axis":{"values":[0,0.5,1,1.5],"format":".1f","labelFontSize":5}},
"color":{"field":"s","type":"nominal","sort":null,"scale":{"domain":["XIII","XIII-WT"],"range":["#2020ff","#000000"]},"legend":{"legendX":67,"legendY":0}}}},
{"data":{"name":"b3p"},"mark":{"type":"errorbar","ticks":{"size":4},"thickness":0.8},"encoding":{"x":{"field":"c","type":"quantitative","title":"[Panobinostat], µM"},"y":{"field":"lo","type":"quantitative","title":"relative cell viability"},"y2":{"field":"hi"},"color":{"field":"s","type":"nominal","sort":null}}},
{"data":{"name":"b3p"},"mark":{"type":"point"},"encoding":{"x":{"field":"c","type":"quantitative","title":"[Panobinostat], µM"},"y":{"field":"v","type":"quantitative","title":"relative cell viability"},"color":{"field":"s","type":"nominal","sort":null}}}
]},
{"width":100,"height":68,
"layer":[
{"data":{"name":"b4c"},"mark":{"type":"line","interpolate":"monotone","strokeWidth":1},
"encoding":{
"x":{"field":"c","type":"quantitative","title":"[Panobinostat], µM","scale":{"type":"log","domain":[0.0001,100]},"axis":{"values":[0.0001,0.0002,0.0003,0.0004,0.0005,0.0006,0.0007,0.0008,0.0009,0.001,0.002,0.003,0.004,0.005,0.006,0.007,0.008,0.009,0.01,0.02,0.03,0.04,0.05,0.06,0.07,0.08,0.09,0.1,0.2,0.3,0.4,0.5,0.6,0.7,0.8,0.9,1,2,3,4,5,6,7,8,9,10,20,30,40,50,60,70,80,90,100],"labelExpr":"abs(log(datum.value)/LN10-round(log(datum.value)/LN10))<0.01 ? '10'+['⁻⁴','⁻³','⁻²','⁻¹','⁰','¹','²'][round(log(datum.value)/LN10)+4] : ''","tickSize":{"condition":{"test":"abs(log(datum.value)/LN10-round(log(datum.value)/LN10))>0.01","value":1.5},"value":3},"labelFontSize":5,"labelOverlap":false,"labelFlush":false,"titlePadding":2}},
"y":{"field":"v","type":"quantitative","title":"relative cell viability","scale":{"domain":[0,1.5]},"axis":{"values":[0,0.5,1,1.5],"format":".1f","labelFontSize":5}},
"color":{"field":"s","type":"nominal","sort":null,"scale":{"domain":["XVII","XVII-WT"],"range":["#2020ff","#000000"]},"legend":{"legendX":67,"legendY":0}}}},
{"data":{"name":"b4p"},"mark":{"type":"errorbar","ticks":{"size":4},"thickness":0.8},"encoding":{"x":{"field":"c","type":"quantitative","title":"[Panobinostat], µM"},"y":{"field":"lo","type":"quantitative","title":"relative cell viability"},"y2":{"field":"hi"},"color":{"field":"s","type":"nominal","sort":null}}},
{"data":{"name":"b4p"},"mark":{"type":"point"},"encoding":{"x":{"field":"c","type":"quantitative","title":"[Panobinostat], µM"},"y":{"field":"v","type":"quantitative","title":"relative cell viability"},"color":{"field":"s","type":"nominal","sort":null}}}
]}
],"spacing":45,"bounds":"flush","resolve":{"scale":{"color":"independent"},"legend":{"color":"independent"}}},
{"hconcat":[
{"vconcat":[
{"width":10,"height":8,"data":{"values":[{}]},"mark":{"type":"point","opacity":0}},
{"vconcat":[
{"vconcat":[
{"width":116,"height":12,"view":{"stroke":"#000","fill":"#f2f2f2","strokeWidth":1},
"title":{"text":"c","offset":-12,"dy":-12},
"data":{"name":"cblot"},"transform":[{"filter":"datum.row=='ASCL1'"}],
"mark":{"type":"bar","color":"#111","cornerRadius":2},
"encoding":{"x":{"field":"lane","type":"nominal","sort":null,"scale":{"paddingInner":0.28,"paddingOuter":0.14},"axis":null},
"y":{"datum":0.28,"type":"quantitative","scale":{"domain":[0,1]},"axis":{"orient":"right","values":[0.5],"labelExpr":"'30'","tickSize":6,"domain":false,"labelFontSize":6.5,"labelPadding":1,"title":"ASCL1","titleAngle":0,"titleAlign":"right","titleBaseline":"middle","titleX":-119,"titleY":6,"titleFontSize":6.5,"titlePadding":0}},
"y2":{"datum":0.72},
"opacity":{"field":"i","type":"quantitative","scale":{"domain":[0,1],"range":[0,1]},"legend":null}}},
{"width":116,"height":9,"view":{"stroke":"#000","fill":"#f2f2f2","strokeWidth":1},
"data":{"name":"cblot"},"transform":[{"filter":"datum.row=='Actin'"}],
"mark":{"type":"bar","color":"#111","cornerRadius":2},
"encoding":{"x":{"field":"lane","type":"nominal","sort":null,"scale":{"paddingInner":0.28,"paddingOuter":0.14},"axis":null},
"y":{"datum":0.28,"type":"quantitative","scale":{"domain":[0,1]},"axis":{"orient":"right","values":[0.5],"labelExpr":"'42'","tickSize":6,"domain":false,"labelFontSize":6.5,"labelPadding":1,"title":"Actin","titleAngle":0,"titleAlign":"right","titleBaseline":"middle","titleX":-119,"titleY":4.5,"titleFontSize":6.5,"titlePadding":0}},
"y2":{"datum":0.72},
"opacity":{"field":"i","type":"quantitative","scale":{"domain":[0,1],"range":[0,1]},"legend":null}}}
],"spacing":4},
{"vconcat":[
{"width":114,"height":18,
"data":{"name":"crel"},
"mark":{"type":"bar","fill":"#ffffff","stroke":"#8c8c8c","strokeWidth":0.9},
"encoding":{"x":{"field":"lane","type":"nominal","sort":null,"scale":{"paddingInner":0.3,"paddingOuter":0.15},"axis":{"title":null,"labelAngle":-90,"labelExpr":"split(datum.value,'|')[1]","ticks":false,"labelFontSize":6,"labelPadding":3}},"y":{"field":"v","type":"quantitative","scale":{"domain":[0,1]},"axis":{"title":["Relative","Level"],"values":[0,0.2,0.4,0.6,0.8,1],"format":".1f","labelFontSize":2.5,"tickSize":2,"titleFontSize":6.5,"titlePadding":2}}}},
{"width":114,"height":33,
"data":{"name":"crel"},
"mark":{"type":"point","opacity":0},
"encoding":{"x":{"field":"g","type":"nominal","sort":null,"scale":{"padding":0},"axis":{"title":null,"tickBand":"extent","labelFontSize":6.5,"labelPadding":4,"tickSize":3,"domainWidth":1.2,"tickWidth":1.2,"labelAngle":0}},"y":{"datum":0,"type":"quantitative","axis":null}}}
],"spacing":17,"bounds":"flush"}
],"spacing":6}
],"spacing":0},
{"vconcat":[
{"width":10,"height":14,"data":{"values":[{}]},"mark":{"type":"point","opacity":0}},
{"width":134,"height":76,"title":{"text":"d","offset":12,"dy":-34},
"layer":[
{"data":{"name":"dbar"},"mark":{"type":"bar","fill":"#ffffff","strokeWidth":1.5},"encoding":{"x":{"field":"k","type":"nominal","scale":{"domain":["XIII|control","XIII|siRNA1+2","g1","XVII|control","XVII|siRNA1+2","g2","XIII-WT|control","XIII-WT|siRNA1+2","g3","XVII-WT|control","XVII-WT|siRNA1+2"],"paddingInner":0.14,"paddingOuter":0.35},"axis":{"title":null,"labelAngle":0,"ticks":false,"labelFontSize":6.5,"labelPadding":4,"labelOffset":6,"labelExpr":"indexof(datum.value,'|control')>0 ? split(datum.value,'|')[0] : ''"}},"y":{"field":"m","type":"quantitative","title":"relative cell viability","scale":{"domain":[0,1.2]},"axis":{"values":[0,0.2,0.4,0.6,0.8,1,1.2],"format":".1f","labelFontSize":6,"titleFontSize":5.5}},"stroke":{"field":"line","type":"nominal","scale":{"domain":["XIII","XVII","XIII-WT","XVII-WT"],"range":["#2020ff","#2020ff","#000000","#666666"]},"legend":null}}},
{"data":{"name":"dbar"},"mark":{"type":"rule","strokeWidth":1},"encoding":{"x":{"field":"k","type":"nominal"},"y":{"field":"lo","type":"quantitative","title":"relative cell viability"},"y2":{"field":"hi"},"stroke":{"field":"line","type":"nominal","legend":null}}},
{"data":{"name":"dbar"},"mark":{"type":"tick","thickness":1,"size":6},"encoding":{"x":{"field":"k","type":"nominal"},"y":{"field":"lo","type":"quantitative","title":"relative cell viability"},"color":{"field":"line","type":"nominal","scale":{"domain":["XIII","XVII","XIII-WT","XVII-WT"],"range":["#2020ff","#2020ff","#000000","#666666"]},"legend":null}}},
{"data":{"name":"dbar"},"mark":{"type":"tick","thickness":1,"size":6},"encoding":{"x":{"field":"k","type":"nominal"},"y":{"field":"hi","type":"quantitative","title":"relative cell viability"},"color":{"field":"line","type":"nominal","legend":null}}},
{"data":{"name":"dpts"},"mark":{"type":"circle","size":8,"opacity":1},"encoding":{"x":{"field":"k","type":"nominal"},"y":{"field":"v","type":"quantitative","title":"relative cell viability"},"color":{"field":"line","type":"nominal","legend":null}}},
{"data":{"name":"dbar"},"mark":{"type":"text","fontSize":11,"baseline":"alphabetic","dy":4,"color":"#000"},"encoding":{"x":{"field":"k","type":"nominal"},"y":{"field":"hi","type":"quantitative","title":"relative cell viability"},"text":{"field":"sig"}}},
{"data":{"name":"dbar"},"mark":{"type":"text","angle":315,"align":"left","baseline":"middle","fontSize":6,"fontWeight":"bold","dx":-3,"color":"#000"},"encoding":{"x":{"field":"k","type":"nominal"},"y":{"datum":1.24},"text":{"field":"cond"}}}
]}
],"spacing":0},
{"vconcat":[
{"width":10,"height":5,"data":{"values":[{}]},"mark":{"type":"point","opacity":0}},
{"vconcat":[
{"vconcat":[
{"width":95,"height":12,"view":{"stroke":"#000","fill":"#f2f2f2","strokeWidth":1},
"title":{"text":"e","offset":-16,"dy":-14},
"data":{"name":"eblot"},"transform":[{"filter":"datum.row=='ASCL1'"}],
"mark":{"type":"bar","color":"#111","cornerRadius":2},
"encoding":{"x":{"field":"lane","type":"nominal","sort":null,"scale":{"paddingInner":0.2,"paddingOuter":0.1},"axis":null},
"y":{"datum":0.3,"type":"quantitative","scale":{"domain":[0,1]},"axis":{"orient":"right","values":[0.5],"labelExpr":"'30\u00a0\u00a0\u00a0\u00a0\u00a0\u00a0\u00a0\u00a0\u00a0\u00a0\u00a0\u00a0\u00a0\u00a0\u00a0\u00a0\u00a0\u00a0\u00a0\u00a0\u00a0\u00a0'","tickSize":6,"domain":false,"labelFontSize":6.5,"labelPadding":1,"title":"ASCL1","titleAngle":0,"titleAlign":"right","titleBaseline":"middle","titleX":-98,"titleY":6,"titleFontSize":6.5,"titlePadding":0}},
"y2":{"datum":0.7},
"opacity":{"field":"i","type":"quantitative","scale":{"domain":[0,1],"range":[0,1]},"legend":null}}},
{"width":95,"height":10,"view":{"stroke":"#000","fill":"#f2f2f2","strokeWidth":1},
"data":{"name":"eblot"},"transform":[{"filter":"datum.row=='Actin'"}],
"mark":{"type":"bar","color":"#111","cornerRadius":2},
"encoding":{"x":{"field":"lane","type":"nominal","sort":null,"scale":{"paddingInner":0.2,"paddingOuter":0.1},"axis":null},
"y":{"datum":0.3,"type":"quantitative","scale":{"domain":[0,1]},"axis":{"orient":"right","values":[0.5],"labelExpr":"'42'","tickSize":6,"domain":false,"labelFontSize":6.5,"labelPadding":1,"title":"Actin","titleAngle":0,"titleAlign":"right","titleBaseline":"middle","titleX":-98,"titleY":5,"titleFontSize":6.5,"titlePadding":0}},
"y2":{"datum":0.7},
"opacity":{"field":"i","type":"quantitative","scale":{"domain":[0,1],"range":[0,1]},"legend":null}}}
],"spacing":8},
{"width":92,"height":23,
"data":{"name":"erel"},
"mark":{"type":"bar","fill":"#ffffff","stroke":"#8c8c8c","strokeWidth":0.9},
"encoding":{"x":{"field":"lane","type":"nominal","sort":null,"scale":{"paddingInner":0.3,"paddingOuter":0.15},"axis":{"title":null,"labelAngle":-90,"ticks":false,"labelFontSize":6,"labelPadding":3}},"y":{"field":"v","type":"quantitative","scale":{"domain":[0,1]},"axis":{"title":["Relative","Level"],"values":[0,0.2,0.4,0.6,0.8,1],"format":".1f","labelFontSize":2.5,"tickSize":2,"titleFontSize":6.5,"titlePadding":2}}}}
],"spacing":6}
],"spacing":0},
{"vconcat":[
{"width":10,"height":19,"data":{"values":[{}]},"mark":{"type":"point","opacity":0}},
{"width":140,"height":78,"title":{"text":"f","offset":-12,"dy":-2},
"layer":[
{"data":{"name":"fbar"},"mark":{"type":"bar","fill":"#ffffff","stroke":"#000","strokeWidth":1.5},"encoding":{"x":{"field":"k","type":"nominal","scale":{"domain":["XIII-WT|EV","XVII-WT|EV","gap","XIII-WT|ASCL1","XVII-WT|ASCL1"],"paddingInner":0.25,"paddingOuter":0.5},"axis":{"title":null,"labelAngle":0,"ticks":false,"labelFontSize":6.5,"labelPadding":4,"labelExpr":"datum.value=='gap' ? '' : split(datum.value,'|')[0]"}},"y":{"field":"m","type":"quantitative","title":"relative cell viability","scale":{"domain":[0,5]},"axis":{"values":[0,1,2,3,4,5],"format":"d","labelFontSize":6,"titleFontSize":5.5}}}},
{"data":{"name":"fbar"},"mark":{"type":"rule","strokeWidth":1,"color":"#000"},"encoding":{"x":{"field":"k","type":"nominal"},"y":{"field":"lo","type":"quantitative","title":"relative cell viability"},"y2":{"field":"hi"}}},
{"data":{"name":"fbar"},"mark":{"type":"tick","thickness":1,"size":6,"color":"#000"},"encoding":{"x":{"field":"k","type":"nominal"},"y":{"field":"lo","type":"quantitative","title":"relative cell viability"}}},
{"data":{"name":"fbar"},"mark":{"type":"tick","thickness":1,"size":6,"color":"#000"},"encoding":{"x":{"field":"k","type":"nominal"},"y":{"field":"hi","type":"quantitative","title":"relative cell viability"}}},
{"data":{"name":"fpts"},"mark":{"type":"circle","size":8,"opacity":1,"color":"#000"},"encoding":{"x":{"field":"k","type":"nominal"},"y":{"field":"v","type":"quantitative","title":"relative cell viability"}}},
{"data":{"name":"fbar"},"mark":{"type":"text","fontSize":11,"baseline":"alphabetic","dy":4,"color":"#000"},"encoding":{"x":{"field":"k","type":"nominal"},"y":{"field":"hi","type":"quantitative","title":"relative cell viability"},"text":{"field":"sig"}}},
{"data":{"name":"fbar"},"mark":{"type":"text","angle":315,"align":"left","baseline":"middle","fontSize":6,"fontWeight":"bold","dx":-3,"color":"#000"},"encoding":{"x":{"field":"k","type":"nominal"},"y":{"datum":4.85},"text":{"field":"cond"}}}
]}
],"spacing":0}
],"spacing":0,"resolve":{"scale":{"color":"independent","stroke":"independent","opacity":"independent"}}},
{"hconcat":[
{"vconcat":[
{"width":10,"height":1,"data":{"values":[{}]},"mark":{"type":"point","opacity":0}},
{"vconcat":[
{"vconcat":[
{"width":130,"height":15,"view":{"stroke":"#000","fill":"#f2f2f2","strokeWidth":1},
"title":{"text":"g","offset":-6,"dy":-1},
"data":{"name":"gblot"},"transform":[{"filter":"datum.row=='RBPJ'"}],
"mark":{"type":"bar","color":"#111","cornerRadius":2},
"encoding":{"x":{"field":"lane","type":"nominal","sort":null,"scale":{"paddingInner":0.28,"paddingOuter":0.14},"axis":null},
"y":{"datum":0.32,"type":"quantitative","scale":{"domain":[0,1]},"axis":{"orient":"right","values":[0.5],"labelExpr":"'65'","tickSize":5,"domain":false,"labelFontSize":6.5,"labelPadding":1,"title":"RBPJ","titleAngle":0,"titleAlign":"right","titleBaseline":"middle","titleX":-133,"titleY":7.5,"titleFontSize":6.5,"titlePadding":0}},
"y2":{"datum":0.68},
"opacity":{"field":"i","type":"quantitative","scale":{"domain":[0,1],"range":[0,1]},"legend":null}}},
{"width":130,"height":10,"view":{"stroke":"#000","fill":"#f2f2f2","strokeWidth":1},
"data":{"name":"gblot"},"transform":[{"filter":"datum.row=='GAPDH'"}],
"mark":{"type":"bar","color":"#111","cornerRadius":2},
"encoding":{"x":{"field":"lane","type":"nominal","sort":null,"scale":{"paddingInner":0.28,"paddingOuter":0.14},"axis":null},
"y":{"datum":0.28,"type":"quantitative","scale":{"domain":[0,1]},"axis":{"orient":"right","values":[0.5],"labelExpr":"'36'","tickSize":5,"domain":false,"labelFontSize":6.5,"labelPadding":1,"title":"GAPDH","titleAngle":0,"titleAlign":"right","titleBaseline":"middle","titleX":-133,"titleY":5,"titleFontSize":6.5,"titlePadding":0}},
"y2":{"datum":0.72},
"opacity":{"field":"i","type":"quantitative","scale":{"domain":[0,1],"range":[0,1]},"legend":null}}}
],"spacing":5},
{"vconcat":[
{"width":128,"height":12,
"data":{"name":"grel"},
"mark":{"type":"bar","fill":"#ffffff","stroke":"#8c8c8c","strokeWidth":0.9},
"encoding":{"x":{"field":"lane","type":"nominal","sort":null,"scale":{"paddingInner":0.3,"paddingOuter":0.15},"axis":{"title":null,"labelAngle":-90,"labelExpr":"split(datum.value,'|')[1]","ticks":false,"labelFontSize":6,"labelPadding":3}},"y":{"field":"v","type":"quantitative","scale":{"domain":[0,1]},"axis":{"title":["Relative","Level"],"values":[0,0.5,1],"format":".1f","labelFontSize":2.5,"tickSize":2,"titleFontSize":5.5,"titlePadding":2}}}},
{"width":128,"height":52,
"data":{"name":"grel"},
"mark":{"type":"point","opacity":0},
"encoding":{"x":{"field":"g","type":"nominal","sort":null,"scale":{"padding":0},"axis":{"title":null,"tickBand":"extent","labelFontSize":6.5,"labelPadding":4,"tickSize":3,"domainWidth":1.2,"tickWidth":1.2,"labelAngle":0}},"y":{"datum":0,"type":"quantitative","axis":null}}}
],"spacing":5,"bounds":"flush"}
],"spacing":0}
],"spacing":0},
{"vconcat":[
{"width":10,"height":1,"data":{"values":[{}]},"mark":{"type":"point","opacity":0}},
{"width":134,"height":76,"title":{"text":"h","offset":13,"dy":-29},
"layer":[
{"data":{"name":"hbar"},"mark":{"type":"bar","fill":"#ffffff","strokeWidth":1.5},"encoding":{"x":{"field":"k","type":"nominal","scale":{"domain":["XIII|control","XIII|siRNA","g1","XVII|control","XVII|siRNA","g2","XIII-WT|control","XIII-WT|siRNA","g3","XVII-WT|control","XVII-WT|siRNA"],"paddingInner":0.14,"paddingOuter":0.35},"axis":{"title":null,"labelAngle":0,"ticks":false,"labelFontSize":6.5,"labelPadding":4,"labelOffset":6,"labelExpr":"indexof(datum.value,'|control')>0 ? split(datum.value,'|')[0] : ''"}},"y":{"field":"m","type":"quantitative","title":"relative cell viability","scale":{"domain":[0,1.2]},"axis":{"values":[0,0.2,0.4,0.6,0.8,1,1.2],"format":".1f","labelFontSize":6,"titleFontSize":5.5}},"stroke":{"field":"line","type":"nominal","scale":{"domain":["XIII","XVII","XIII-WT","XVII-WT"],"range":["#2020ff","#2020ff","#000000","#000000"]},"legend":null}}},
{"data":{"name":"hbar"},"mark":{"type":"rule","strokeWidth":1},"encoding":{"x":{"field":"k","type":"nominal"},"y":{"field":"lo","type":"quantitative","title":"relative cell viability"},"y2":{"field":"hi"},"stroke":{"field":"line","type":"nominal","legend":null}}},
{"data":{"name":"hbar"},"mark":{"type":"tick","thickness":1,"size":6},"encoding":{"x":{"field":"k","type":"nominal"},"y":{"field":"lo","type":"quantitative","title":"relative cell viability"},"color":{"field":"line","type":"nominal","scale":{"domain":["XIII","XVII","XIII-WT","XVII-WT"],"range":["#2020ff","#2020ff","#000000","#000000"]},"legend":null}}},
{"data":{"name":"hbar"},"mark":{"type":"tick","thickness":1,"size":6},"encoding":{"x":{"field":"k","type":"nominal"},"y":{"field":"hi","type":"quantitative","title":"relative cell viability"},"color":{"field":"line","type":"nominal","legend":null}}},
{"data":{"name":"hpts"},"mark":{"type":"circle","size":8,"opacity":1},"encoding":{"x":{"field":"k","type":"nominal"},"y":{"field":"v","type":"quantitative","title":"relative cell viability"},"color":{"field":"line","type":"nominal","legend":null}}},
{"data":{"name":"hbar"},"mark":{"type":"text","fontSize":11,"baseline":"alphabetic","dy":4,"color":"#000"},"encoding":{"x":{"field":"k","type":"nominal"},"y":{"field":"hi","type":"quantitative","title":"relative cell viability"},"text":{"field":"sig"}}},
{"data":{"name":"hbar"},"mark":{"type":"text","angle":315,"align":"left","baseline":"middle","fontSize":6,"fontWeight":"bold","dx":-3,"color":"#000"},"encoding":{"x":{"field":"k","type":"nominal"},"y":{"datum":1.24},"text":{"field":"cond"}}}
]}
],"spacing":0},
{"vconcat":[
{"width":10,"height":1,"data":{"values":[{}]},"mark":{"type":"point","opacity":0}},
{"vconcat":[
{"vconcat":[
{"width":117,"height":15,"view":{"stroke":"#000","fill":"#f2f2f2","strokeWidth":1},
"title":{"text":"i","offset":6,"dy":0},
"data":{"name":"iblot"},"transform":[{"filter":"datum.row=='RBPJ'"}],
"mark":{"type":"bar","color":"#111","cornerRadius":2},
"encoding":{"x":{"field":"lane","type":"nominal","sort":null,"scale":{"paddingInner":0.28,"paddingOuter":0.14},"axis":null},
"y":{"datum":0.32,"type":"quantitative","scale":{"domain":[0,1]},"axis":{"orient":"right","values":[0.5],"labelExpr":"'65\u00a0\u00a0\u00a0\u00a0\u00a0\u00a0\u00a0\u00a0\u00a0\u00a0\u00a0\u00a0\u00a0\u00a0\u00a0\u00a0\u00a0\u00a0\u00a0\u00a0'","tickSize":6,"domain":false,"labelFontSize":6.5,"labelPadding":1,"title":"RBPJ","titleAngle":0,"titleAlign":"right","titleBaseline":"middle","titleX":-120,"titleY":7.5,"titleFontSize":6.5,"titlePadding":0}},
"y2":{"datum":0.68},
"opacity":{"field":"i","type":"quantitative","scale":{"domain":[0,1],"range":[0,1]},"legend":null}}},
{"width":117,"height":14,"view":{"stroke":"#000","fill":"#f2f2f2","strokeWidth":1},
"data":{"name":"iblot"},"transform":[{"filter":"datum.row=='GAPDH'"}],
"mark":{"type":"bar","color":"#111","cornerRadius":2},
"encoding":{"x":{"field":"lane","type":"nominal","sort":null,"scale":{"paddingInner":0.28,"paddingOuter":0.14},"axis":null},
"y":{"datum":0.32,"type":"quantitative","scale":{"domain":[0,1]},"axis":{"orient":"right","values":[0.5],"labelExpr":"'36'","tickSize":6,"domain":false,"labelFontSize":6.5,"labelPadding":1,"title":"GAPDH","titleAngle":0,"titleAlign":"right","titleBaseline":"middle","titleX":-120,"titleY":7,"titleFontSize":6.5,"titlePadding":0}},
"y2":{"datum":0.68},
"opacity":{"field":"i","type":"quantitative","scale":{"domain":[0,1],"range":[0,1]},"legend":null}}}
],"spacing":3},
{"vconcat":[
{"width":116,"height":15,
"data":{"name":"irel"},
"mark":{"type":"bar","fill":"#ffffff","stroke":"#8c8c8c","strokeWidth":0.9},
"encoding":{"x":{"field":"lane","type":"nominal","sort":null,"scale":{"paddingInner":0.3,"paddingOuter":0.15},"axis":{"title":null,"labelAngle":-90,"labelExpr":"split(datum.value,'|')[1]","ticks":false,"labelFontSize":6,"labelPadding":3}},"y":{"field":"v","type":"quantitative","scale":{"domain":[0,1]},"axis":{"title":["Relative","Level"],"values":[0,0.5,1],"format":".1f","labelFontSize":2.5,"tickSize":2,"titleFontSize":6.5,"titlePadding":2}}}},
{"width":116,"height":8,
"data":{"name":"irel"},
"mark":{"type":"point","opacity":0},
"encoding":{"x":{"field":"g","type":"nominal","sort":null,"scale":{"padding":0},"axis":{"title":null,"tickBand":"extent","labelFontSize":6.5,"labelPadding":4,"tickSize":3,"domainWidth":1.2,"tickWidth":1.2,"labelAngle":0}},"y":{"datum":0,"type":"quantitative","axis":null}}}
],"spacing":25,"bounds":"flush"}
],"spacing":19}
],"spacing":0},
{"vconcat":[
{"width":10,"height":1,"data":{"values":[{}]},"mark":{"type":"point","opacity":0}},
{"width":128,"height":76,"title":{"text":"j","offset":17,"dy":-27},
"layer":[
{"data":{"name":"jbar"},"mark":{"type":"bar","fill":"#ffffff","strokeWidth":1.5},"encoding":{"x":{"field":"k","type":"nominal","scale":{"domain":["XIII|DMSO","XIII|RIN1","g1","XVII|DMSO","XVII|RIN1","g2","XIII-WT|DMSO","XIII-WT|RIN1","g3","XVII-WT|DMSO","XVII-WT|RIN1"],"paddingInner":0.14,"paddingOuter":0.32},"axis":{"title":null,"labelAngle":0,"ticks":false,"labelFontSize":6.5,"labelPadding":4,"labelOffset":6,"labelExpr":"indexof(datum.value,'|DMSO')>0 ? split(datum.value,'|')[0] : ''"}},"y":{"field":"m","type":"quantitative","title":"relative cell viability","scale":{"domain":[0,1.2]},"axis":{"values":[0,0.2,0.4,0.6,0.8,1,1.2],"format":".1f","labelFontSize":6,"titleFontSize":5.5}},"stroke":{"field":"line","type":"nominal","scale":{"domain":["XIII","XVII","XIII-WT","XVII-WT"],"range":["#2020ff","#2020ff","#000000","#000000"]},"legend":null}}},
{"data":{"name":"jbar"},"mark":{"type":"rule","strokeWidth":1},"encoding":{"x":{"field":"k","type":"nominal"},"y":{"field":"lo","type":"quantitative","title":"relative cell viability"},"y2":{"field":"hi"},"stroke":{"field":"line","type":"nominal","legend":null}}},
{"data":{"name":"jbar"},"mark":{"type":"tick","thickness":1,"size":6},"encoding":{"x":{"field":"k","type":"nominal"},"y":{"field":"lo","type":"quantitative","title":"relative cell viability"},"color":{"field":"line","type":"nominal","scale":{"domain":["XIII","XVII","XIII-WT","XVII-WT"],"range":["#2020ff","#2020ff","#000000","#000000"]},"legend":null}}},
{"data":{"name":"jbar"},"mark":{"type":"tick","thickness":1,"size":6},"encoding":{"x":{"field":"k","type":"nominal"},"y":{"field":"hi","type":"quantitative","title":"relative cell viability"},"color":{"field":"line","type":"nominal","legend":null}}},
{"data":{"name":"jpts"},"mark":{"type":"circle","size":8,"opacity":1},"encoding":{"x":{"field":"k","type":"nominal"},"y":{"field":"v","type":"quantitative","title":"relative cell viability"},"color":{"field":"line","type":"nominal","legend":null}}},
{"data":{"name":"jbar"},"mark":{"type":"text","fontSize":11,"baseline":"alphabetic","dy":4,"color":"#000"},"encoding":{"x":{"field":"k","type":"nominal"},"y":{"field":"hi","type":"quantitative","title":"relative cell viability"},"text":{"field":"sig"}}},
{"data":{"name":"jbar"},"mark":{"type":"text","angle":315,"align":"left","baseline":"middle","fontSize":6,"fontWeight":"bold","dx":-3,"color":"#000"},"encoding":{"x":{"field":"k","type":"nominal"},"y":{"datum":1.24},"text":{"field":"cond"}}}
]}
],"spacing":0}
],"spacing":-12,"resolve":{"scale":{"color":"independent","stroke":"independent","opacity":"independent"}}}
]
}
